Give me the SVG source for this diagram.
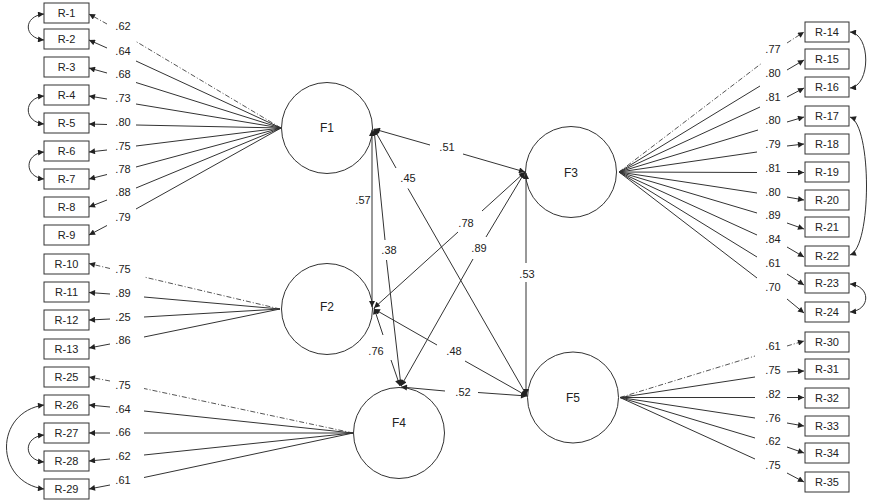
<svg xmlns="http://www.w3.org/2000/svg" width="873" height="504" viewBox="0 0 873 504">
<defs>
<style>
.box{fill:#fff;stroke:#333;stroke-width:1}
.fac{fill:#fff;stroke:#333;stroke-width:1}
.t{font-family:"Liberation Sans",Arial,sans-serif;font-size:11px;fill:#222;text-anchor:middle}
.ft{font-family:"Liberation Sans",Arial,sans-serif;font-size:12px;fill:#222;text-anchor:middle}
.ln{fill:none;stroke:#333;stroke-width:1}
.dd{fill:none;stroke:#555;stroke-width:1;stroke-dasharray:5 2 1 2}
.e{marker-end:url(#ah)}
.s{marker-start:url(#ah)}
.b{marker-start:url(#ah);marker-end:url(#ah)}
</style>
<marker id="ah" viewBox="0 0 10 10" refX="10" refY="5" markerWidth="7" markerHeight="6" markerUnits="userSpaceOnUse" orient="auto-start-reverse">
<path d="M0,0 L10,5 L0,10 z" fill="#222"/>
</marker>
</defs>
<rect width="873" height="504" fill="#fff"/>

<g id="F1"><circle class="fac" cx="327" cy="128" r="45.5"/><text class="ft" x="327" y="132">F1</text></g>
<g id="F2"><circle class="fac" cx="327" cy="309" r="45.5"/><text class="ft" x="327" y="311">F2</text></g>
<g id="F3"><circle class="fac" cx="571" cy="172" r="45.5"/><text class="ft" x="571" y="177">F3</text></g>
<g id="F4"><circle class="fac" cx="399" cy="433" r="45.5"/><text class="ft" x="399" y="427">F4</text></g>
<g id="F5"><circle class="fac" cx="573" cy="397.5" r="45.5"/><text class="ft" x="573" y="402">F5</text></g>

<g id="R-1"><rect class="box" x="44" y="3" width="45" height="20"/><text class="t" x="66.5" y="17">R-1</text></g>
<g id="R-2"><rect class="box" x="44" y="29" width="45" height="20"/><text class="t" x="66.5" y="43">R-2</text></g>
<g id="R-3"><rect class="box" x="44" y="57" width="45" height="20"/><text class="t" x="66.5" y="71">R-3</text></g>
<g id="R-4"><rect class="box" x="44" y="85" width="45" height="20"/><text class="t" x="66.5" y="99">R-4</text></g>
<g id="R-5"><rect class="box" x="44" y="113" width="45" height="20"/><text class="t" x="66.5" y="127">R-5</text></g>
<g id="R-6"><rect class="box" x="44" y="141" width="45" height="20"/><text class="t" x="66.5" y="155">R-6</text></g>
<g id="R-7"><rect class="box" x="44" y="169" width="45" height="20"/><text class="t" x="66.5" y="183">R-7</text></g>
<g id="R-8"><rect class="box" x="44" y="197" width="45" height="20"/><text class="t" x="66.5" y="211">R-8</text></g>
<g id="R-9"><rect class="box" x="44" y="225" width="45" height="20"/><text class="t" x="66.5" y="239">R-9</text></g>
<g id="R-10"><rect class="box" x="44" y="254" width="45" height="20"/><text class="t" x="66.5" y="268">R-10</text></g>
<g id="R-11"><rect class="box" x="44" y="282" width="45" height="20"/><text class="t" x="66.5" y="296">R-11</text></g>
<g id="R-12"><rect class="box" x="44" y="310" width="45" height="20"/><text class="t" x="66.5" y="324">R-12</text></g>
<g id="R-13"><rect class="box" x="44" y="339" width="45" height="20"/><text class="t" x="66.5" y="353">R-13</text></g>
<g id="R-25"><rect class="box" x="44" y="367" width="45" height="20"/><text class="t" x="66.5" y="381">R-25</text></g>
<g id="R-26"><rect class="box" x="44" y="395" width="45" height="20"/><text class="t" x="66.5" y="409">R-26</text></g>
<g id="R-27"><rect class="box" x="44" y="423" width="45" height="20"/><text class="t" x="66.5" y="437">R-27</text></g>
<g id="R-28"><rect class="box" x="44" y="451" width="45" height="20"/><text class="t" x="66.5" y="465">R-28</text></g>
<g id="R-29"><rect class="box" x="44" y="479" width="45" height="20"/><text class="t" x="66.5" y="493">R-29</text></g>

<g id="R-14"><rect class="box" x="805" y="22" width="44" height="20"/><text class="t" x="827" y="36">R-14</text></g>
<g id="R-15"><rect class="box" x="805" y="49" width="44" height="20"/><text class="t" x="827" y="63">R-15</text></g>
<g id="R-16"><rect class="box" x="805" y="77" width="44" height="20"/><text class="t" x="827" y="91">R-16</text></g>
<g id="R-17"><rect class="box" x="805" y="106" width="44" height="20"/><text class="t" x="827" y="120">R-17</text></g>
<g id="R-18"><rect class="box" x="805" y="134" width="44" height="20"/><text class="t" x="827" y="148">R-18</text></g>
<g id="R-19"><rect class="box" x="805" y="162" width="44" height="20"/><text class="t" x="827" y="176">R-19</text></g>
<g id="R-20"><rect class="box" x="805" y="190" width="44" height="20"/><text class="t" x="827" y="204">R-20</text></g>
<g id="R-21"><rect class="box" x="805" y="217" width="44" height="20"/><text class="t" x="827" y="231">R-21</text></g>
<g id="R-22"><rect class="box" x="805" y="246" width="44" height="20"/><text class="t" x="827" y="260">R-22</text></g>
<g id="R-23"><rect class="box" x="805" y="273" width="44" height="20"/><text class="t" x="827" y="287">R-23</text></g>
<g id="R-24"><rect class="box" x="805" y="302" width="44" height="20"/><text class="t" x="827" y="316">R-24</text></g>
<g id="R-30"><rect class="box" x="805" y="332" width="44" height="20"/><text class="t" x="827" y="346">R-30</text></g>
<g id="R-31"><rect class="box" x="805" y="359" width="44" height="20"/><text class="t" x="827" y="373">R-31</text></g>
<g id="R-32"><rect class="box" x="805" y="388" width="44" height="20"/><text class="t" x="827" y="402">R-32</text></g>
<g id="R-33"><rect class="box" x="805" y="416" width="44" height="20"/><text class="t" x="827" y="430">R-33</text></g>
<g id="R-34"><rect class="box" x="805" y="443" width="44" height="20"/><text class="t" x="827" y="457">R-34</text></g>
<g id="R-35"><rect class="box" x="805" y="472" width="44" height="20"/><text class="t" x="827" y="486">R-35</text></g>

<g id="connectors">
<!-- F1 loadings -->
<path class="dd" d="M281,128 L136,41.5"/><path class="dd e" d="M107,24 L89,14"/>
<path class="ln" d="M281,128 L136,61"/><path class="ln e" d="M107,48 L89,40"/>
<path class="ln" d="M281,128 L136,82.5"/><path class="ln e" d="M107,73 L89,68"/>
<path class="ln" d="M281,128 L136,104"/><path class="ln e" d="M107,99 L89,96"/>
<path class="ln" d="M281,128 L136,125"/><path class="ln e" d="M107,124.5 L89,124"/>
<path class="ln" d="M281,128 L136,146"/><path class="ln e" d="M107,150 L89,152"/>
<path class="ln" d="M281,128 L136,167"/><path class="ln e" d="M107,174.5 L89,179"/>
<path class="ln" d="M281,128 L136,188"/><path class="ln e" d="M107,200 L89,207"/>
<path class="ln" d="M281,128 L136,209"/><path class="ln e" d="M107,225.5 L89,235"/>
<!-- F2 loadings -->
<path class="dd" d="M280,309 L144,277"/><path class="dd e" d="M110,268.5 L89,263.5"/>
<path class="ln" d="M280,309 L144,297"/><path class="ln e" d="M110,294 L89,292.5"/>
<path class="ln" d="M280,309 L144,317"/><path class="ln e" d="M110,319 L89,320"/>
<path class="ln" d="M280,309 L144,337"/><path class="ln e" d="M110,344 L89,348"/>
<!-- F4 loadings -->
<path class="dd" d="M353,433 L144,388.5"/><path class="dd e" d="M110,381 L89,377"/>
<path class="ln" d="M353,433 L144,411"/><path class="ln e" d="M110,407 L89,405"/>
<path class="ln" d="M353,433 L144,433"/><path class="ln e" d="M110,433 L89,433"/>
<path class="ln" d="M353,433 L144,455"/><path class="ln e" d="M110,459 L89,461"/>
<path class="ln" d="M353,433 L144,477.5"/><path class="ln e" d="M110,485 L89,489"/>
<!-- F3 loadings -->
<path class="dd" d="M619,172 L762,63"/><path class="dd e" d="M787,43 L804,32"/>
<path class="ln" d="M619,172 L760,86"/><path class="ln e" d="M787,70 L804,60"/>
<path class="ln" d="M619,172 L760,107"/><path class="ln e" d="M787,97 L804,88"/>
<path class="ln" d="M619,172 L758,130"/><path class="ln e" d="M787,122 L804,117"/>
<path class="ln" d="M619,172 L757,152"/><path class="ln e" d="M787,146 L804,144"/>
<path class="ln" d="M619,172 L757,172.5"/><path class="ln e" d="M787,172.5 L804,172.5"/>
<path class="ln" d="M619,172 L757,193"/><path class="ln e" d="M787,197 L804,200"/>
<path class="ln" d="M619,172 L757,213"/><path class="ln e" d="M787,223 L804,229"/>
<path class="ln" d="M619,172 L757,235"/><path class="ln e" d="M787,247 L804,257"/>
<path class="ln" d="M619,172 L757,257"/><path class="ln e" d="M787,274 L804,285"/>
<path class="ln" d="M619,172 L757,278"/><path class="ln e" d="M787,299 L804,313"/>
<!-- F5 loadings -->
<path class="dd" d="M620,397.5 L755,356"/><path class="dd e" d="M787,346 L804,341"/>
<path class="ln" d="M620,397.5 L755,377"/><path class="ln e" d="M787,372 L804,371"/>
<path class="ln" d="M620,397.5 L755,397.5"/><path class="ln e" d="M787,397.5 L804,397.5"/>
<path class="ln" d="M620,397.5 L755,418"/><path class="ln e" d="M787,423 L804,426"/>
<path class="ln" d="M620,397.5 L755,438"/><path class="ln e" d="M787,447 L804,453"/>
<path class="ln" d="M620,397.5 L755,459"/><path class="ln e" d="M787,473 L804,482"/>
<!-- covariances between indicators -->
<path class="ln b" d="M44,14 C23,16 23,38 44,40"/>
<path class="ln b" d="M44,96 C23,98 23,122 44,124"/>
<path class="ln b" d="M44,152 C24,154 24,177 44,179"/>
<path class="ln b" d="M44,435 C23,437 23,460 44,462"/>
<path class="ln b" d="M44,405 C-6,412 -6,482 44,489"/>
<path class="ln b" d="M850,32 C871,34 871,86 850,88"/>
<path class="ln b" d="M850,117 C872,125 872,247 850,255"/>
<path class="ln b" d="M850,284 C871,286 871,310 850,312"/>
<!-- structural correlations -->
<path class="ln s" d="M374,129 L430,145"/><path class="ln e" d="M463,154 L525,172"/>
<path class="ln s" d="M374,129 L396,168"/><path class="ln e" d="M408,188.5 L527,396"/>
<path class="ln b" d="M372,130 L372,307"/>
<path class="ln s" d="M374,129 L385,240"/><path class="ln e" d="M386.5,260 L401,386"/>
<path class="ln s" d="M374,308 L458,232"/><path class="ln e" d="M482,211 L525,172"/>
<path class="ln s" d="M401,386 L473,259"/><path class="ln e" d="M486,237 L525,172"/>
<path class="ln s" d="M526,173 L526,263"/><path class="ln e" d="M526,282 L526,395"/>
<path class="ln s" d="M374,308 L383,335"/><path class="ln e" d="M391,360 L400,386"/>
<path class="ln s" d="M374,309 L437,345"/><path class="ln e" d="M465,361 L527,396"/>
<path class="ln s" d="M401,387 L445,391"/><path class="ln e" d="M478,392.5 L527,396"/>
</g>

<g id="labels">
<text class="t" x="123" y="30">.62</text>
<text class="t" x="123" y="55">.64</text>
<text class="t" x="123" y="78">.68</text>
<text class="t" x="123" y="102">.73</text>
<text class="t" x="123" y="126">.80</text>
<text class="t" x="123" y="150">.75</text>
<text class="t" x="123" y="173">.78</text>
<text class="t" x="123" y="196">.88</text>
<text class="t" x="123" y="221">.79</text>
<text class="t" x="123" y="273">.75</text>
<text class="t" x="123" y="297">.89</text>
<text class="t" x="123" y="321">.25</text>
<text class="t" x="123" y="344">.86</text>
<text class="t" x="123" y="389">.75</text>
<text class="t" x="123" y="413">.64</text>
<text class="t" x="123" y="436">.66</text>
<text class="t" x="123" y="460">.62</text>
<text class="t" x="123" y="484">.61</text>
<text class="t" x="773" y="53">.77</text>
<text class="t" x="773" y="77">.80</text>
<text class="t" x="773" y="101">.81</text>
<text class="t" x="773" y="124">.80</text>
<text class="t" x="773" y="148">.79</text>
<text class="t" x="773" y="172">.81</text>
<text class="t" x="773" y="196">.80</text>
<text class="t" x="773" y="219">.89</text>
<text class="t" x="773" y="243">.84</text>
<text class="t" x="773" y="267">.61</text>
<text class="t" x="773" y="291">.70</text>
<text class="t" x="773" y="350">.61</text>
<text class="t" x="773" y="374">.75</text>
<text class="t" x="773" y="398">.82</text>
<text class="t" x="773" y="422">.76</text>
<text class="t" x="773" y="445">.62</text>
<text class="t" x="773" y="469">.75</text>
<text class="t" x="447" y="151">.51</text>
<text class="t" x="408" y="182">.45</text>
<text class="t" x="363" y="204">.57</text>
<text class="t" x="389" y="254">.38</text>
<text class="t" x="466" y="227">.78</text>
<text class="t" x="479" y="252">.89</text>
<text class="t" x="527" y="278">.53</text>
<text class="t" x="376" y="355">.76</text>
<text class="t" x="454" y="355">.48</text>
<text class="t" x="463" y="396">.52</text>
</g>
</svg>
